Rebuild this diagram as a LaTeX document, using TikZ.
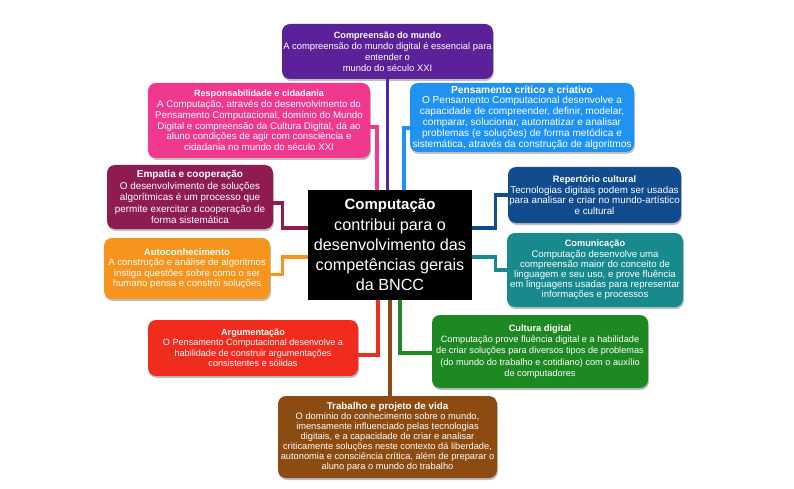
\documentclass[tikz,border=0pt]{standalone}
\usepackage{fontspec}
\setmainfont{Liberation Sans}
\usetikzlibrary{shadows}
\definecolor{cpurple}{RGB}{91,33,152}
\definecolor{cpink}{RGB}{240,56,142}
\definecolor{cblue}{RGB}{32,146,242}
\definecolor{cmaroon}{RGB}{142,27,82}
\definecolor{cdblue}{RGB}{16,76,142}
\definecolor{cteal}{RGB}{24,138,142}
\definecolor{corange}{RGB}{247,148,30}
\definecolor{cred}{RGB}{240,44,30}
\definecolor{cgreen}{RGB}{30,137,34}
\definecolor{cbrown}{RGB}{140,75,16}
\tikzset{
  box/.style={rounded corners=8pt, inner sep=1pt, text=white, align=center,
    drop shadow={shadow xshift=0.8pt, shadow yshift=-2pt, opacity=0.25, fill=black}},
  conn/.style={line width=3.2pt}
}
\newcommand{\bt}[2]{{\fontsize{#1}{11}\selectfont\bfseries #2}}
\newcommand{\fs}[2]{\fontsize{#1}{#2}\selectfont}
\begin{document}
\begin{tikzpicture}[x=1pt,y=-1pt]
\useasboundingbox (0,0) rectangle (794,489);
\fill[white] (0,0) rectangle (794,489);

% center
\node[fill=black, text=white, align=center, minimum width=164pt, minimum height=110pt, inner sep=0pt,
  font=\fs{16.2}{20.3}] (cen) at (390,245)
  {{\fontsize{15}{20.3}\selectfont\bfseries Computação}\\contribui para o\\desenvolvimento das\\competências gerais\\da BNCC};

% boxes
\node[box, fill=cpurple, minimum width=211pt, minimum height=55pt, font=\fs{9.4}{10.9}] (compr) at (387.5,51.5)
  {\bt{9.1}{Compreensão do mundo}\\A compreensão do mundo digital é essencial para\\entender o\\mundo do século XXI};
\node[box, fill=cpink, minimum width=222pt, minimum height=75pt, font=\fs{9.7}{10.7}] (resp) at (259,120.5)
  {\bt{9.1}{Responsabilidade e cidadania}\\A Computação, através do desenvolvimento do\\Pensamento Computacional, domínio do Mundo\\Digital e compreensão da Cultura Digital, dá ao\\aluno condições de agir com consciência e\\cidadania no mundo do século XXI};
\node[box, fill=cblue, minimum width=224pt, minimum height=69pt, font=\fs{10.1}{10.8}] (pens) at (522,117.5)
  {\bt{10.2}{Pensamento crítico e criativo}\\O Pensamento Computacional desenvolve a\\capacidade de compreender, definir, modelar,\\comparar, solucionar, automatizar e analisar\\problemas (e soluções) de forma metódica e\\sistemática, através da construção de algoritmos};
\node[box, fill=cmaroon, minimum width=166pt, minimum height=64pt, font=\fs{9.9}{11.5}] (emp) at (190,197)
  {\bt{10}{Empatia e cooperação}\\O desenvolvimento de soluções\\algorítmicas é um processo que\\permite exercitar a cooperação de\\forma sistemática};
\node[box, fill=cdblue, minimum width=173pt, minimum height=56pt, font=\fs{9.8}{10.7}] (rep) at (594.5,195)
  {\bt{9.3}{Repertório cultural}\\Tecnologias digitais podem ser usadas\\para analisar e criar no mundo-artístico\\e cultural};
\node[box, fill=cteal, minimum width=176pt, minimum height=74pt, font=\fs{9.6}{10.2}] (com) at (595,270)
  {\bt{9.2}{Comunicação}\\Computação desenvolve uma\\compreensão maior do conceito de\\linguagem e seu uso, e prove fluência\\em linguagens usadas para representar\\informações e processos};
\node[box, fill=corange, minimum width=166pt, minimum height=61pt, font=\fs{9.6}{10.2}] (auto) at (187,268.5)
  {\bt{9.5}{Autoconhecimento}\\A construção e análise de algoritmos\\instiga questões sobre como o ser\\humano pensa e constrói soluções};
\node[box, fill=cred, minimum width=210pt, minimum height=56pt, font=\fs{9.1}{10.5}] (arg) at (253,348)
  {\bt{9.1}{Argumentação}\\O Pensamento Computacional desenvolve a\\habilidade de construir argumentações\\consistentes e sólidas};
\node[box, fill=cgreen, minimum width=216pt, minimum height=73pt, font=\fs{9.2}{11.2}] (cult) at (540,351.5)
  {\bt{9.3}{Cultura digital}\\Computação prove fluência digital e a habilidade\\de criar soluções para diversos tipos de problemas\\(do mundo do trabalho e cotidiano) com o auxílio\\de computadores};
\node[box, fill=cbrown, minimum width=219pt, minimum height=82pt, font=\fs{9.3}{10}] (trab) at (387.5,437)
  {\bt{9.8}{Trabalho e projeto de vida}\\O domínio do conhecimento sobre o mundo,\\imensamente influenciado pelas tecnologias\\digitais, e a capacidade de criar e analisar\\criticamente soluções neste contexto dá liberdade,\\autonomia e consciência crítica, além de preparar o\\aluno para o mundo do trabalho};

% connectors
\draw[conn, cpurple] (compr.south) -- (compr.south |- cen.north);
\draw[conn, cpink] ([yshift=-6.5pt]resp.east) -| ([xshift=-13pt]cen.north);
\draw[conn, cblue] ([yshift=-10.5pt]pens.west) -| ([xshift=14pt]cen.north);
\draw[conn, cmaroon] ([yshift=-6pt]emp.east) -- ++(9,0) |- ([yshift=17pt]cen.west);
\draw[conn, corange] ([yshift=-6pt]auto.east) -- ++(12,0) |- ([yshift=-12pt]cen.west);
\draw[conn, cdblue] ([yshift=17pt]cen.east) -- ++(23,0) |- (rep.west);
\draw[conn, cteal] ([yshift=-12pt]cen.east) -- ++(23,0) |- (com.west);
\draw[conn, cred] ([yshift=-7pt]arg.east) -| ([xshift=-12pt]cen.south);
\draw[conn, cgreen] ([yshift=-1.5pt]cult.west) -| ([xshift=10pt]cen.south);
\draw[conn, cbrown] (cen.south) -- (cen.south |- trab.north);
\end{tikzpicture}
\end{document}
